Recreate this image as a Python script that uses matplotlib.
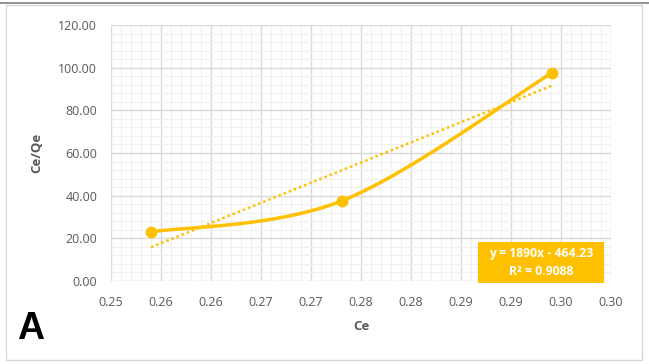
import numpy as np
import matplotlib
matplotlib.use("Agg")
import matplotlib.pyplot as plt
from matplotlib.patches import Rectangle
from matplotlib.lines import Line2D

# ---- data ----
ce = [0.2540, 0.2731, 0.2941]
ce_qe = [23.0, 37.6, 97.6]
trend_slope = 1890.0
trend_intercept = -464.23
eq_text = "y = 1890x - 464.23"
r2_text = "R² = 0.9088"
x_ticks = [0.250, 0.255, 0.260, 0.265, 0.270, 0.275, 0.280, 0.285, 0.290, 0.295, 0.300]
x_tick_labels = ["0.25", "0.26", "0.26", "0.27", "0.27", "0.28", "0.28", "0.29", "0.29", "0.30", "0.30"]
y_ticks = [0, 20, 40, 60, 80, 100, 120]
y_tick_labels = ["0.00", "20.00", "40.00", "60.00", "80.00", "100.00", "120.00"]
x_title = "Ce"
y_title = "Ce/Qe"
panel_label = "A"

GOLD = "#FFC000"
TXT = "#595959"
FONT = "Open Sans"
W, H = 649, 364

fig = plt.figure(figsize=(W/100, H/100), dpi=100)
ax = fig.add_axes([111/W, 1-281/H, 500/W, 256/H])

xmin, xmax = x_ticks[0], x_ticks[-1]
ymin, ymax = y_ticks[0], y_ticks[-1]
ax.set_xlim(xmin, xmax)
ax.set_ylim(ymin, ymax)

# grid
ax.set_xticks(x_ticks)
ax.set_yticks(y_ticks)
ax.set_xticks(np.linspace(xmin, xmax, 51), minor=True)
ax.set_yticks(np.linspace(ymin, ymax, 31), minor=True)
ax.grid(True, which="minor", color="#F0F0F0", lw=0.8, zorder=0)
ax.grid(True, which="major", color="#D9D9D9", lw=1.0, zorder=0.5)
ax.set_axisbelow(True)
for s in ax.spines.values():
    s.set_visible(False)
ax.tick_params(which="both", length=0)
ax.set_xticklabels(x_tick_labels, fontfamily=FONT, fontsize=9, color=TXT)
ax.set_yticklabels(y_tick_labels, fontfamily=FONT, fontsize=9, color=TXT)
ax.tick_params(axis="x", pad=11)
ax.tick_params(axis="y", pad=10)

ax.set_xlabel(x_title, fontfamily=FONT, fontsize=9.5, fontweight="bold", color=TXT, labelpad=8)
ax.set_ylabel(y_title, fontfamily=FONT, fontsize=9.5, fontweight="bold", color=TXT, labelpad=11)

# smoothed line (Excel-style Bezier, computed in normalized axes space)
aspect = 256 / 500
px = (np.array(ce) - xmin) / (xmax - xmin)
py = (np.array(ce_qe) - ymin) / (ymax - ymin) * aspect
P = np.column_stack([px, py])
n = len(P)
curve = []
t = np.linspace(0, 1, 60)
for i in range(n - 1):
    p0 = P[i - 1] if i > 0 else P[i]
    p1 = P[i]
    p2 = P[i + 1]
    p3 = P[i + 2] if i + 2 < n else P[i + 1]
    c1 = p1 + (p2 - p0) / 6.0
    c2 = p2 - (p3 - p1) / 6.0
    seg = ((1-t)**3)[:, None]*p1 + (3*(1-t)**2*t)[:, None]*c1 + (3*(1-t)*t**2)[:, None]*c2 + (t**3)[:, None]*p2
    curve.append(seg)
curve = np.vstack(curve)
cx = curve[:, 0] * (xmax - xmin) + xmin
cy = curve[:, 1] / aspect * (ymax - ymin) + ymin
ax.plot(cx, cy, color=GOLD, lw=2.5, solid_capstyle="round", zorder=3)
ax.plot(ce, ce_qe, "o", color=GOLD, ms=7.5, zorder=4)

# trendline
tx = np.array([ce[0], ce[-1]])
ax.plot(tx, trend_slope * tx + trend_intercept, color=GOLD, lw=1.8, ls=(0, (1, 1.2)), zorder=2)

# equation box
fig.patches.append(Rectangle((478/W, 1-283/H), 126/W, 41/H, transform=fig.transFigure,
                             fc=GOLD, ec="none", zorder=5))
fig.text(541/W, 1-262.5/H, eq_text + "\n" + r2_text, ha="center", va="center",
         fontfamily=FONT, fontsize=8.8, fontweight="bold", color="white", linespacing=1.5, zorder=6)

# panel label
fig.text(17/W, 1-329/H, panel_label, ha="left", va="center",
         fontfamily="Liberation Sans", fontsize=27, fontweight="bold", color="black")

# chart area border and top line
fig.patches.append(Rectangle((6/W, 1-360/H), 636/W, 355/H, transform=fig.transFigure,
                             fill=False, ec="#D9D9D9", lw=1))
fig.lines.append(Line2D([0, 1], [1-3/H, 1-3/H], transform=fig.transFigure, color="#808080", lw=1.2))

fig.savefig("out.png", dpi=100)
